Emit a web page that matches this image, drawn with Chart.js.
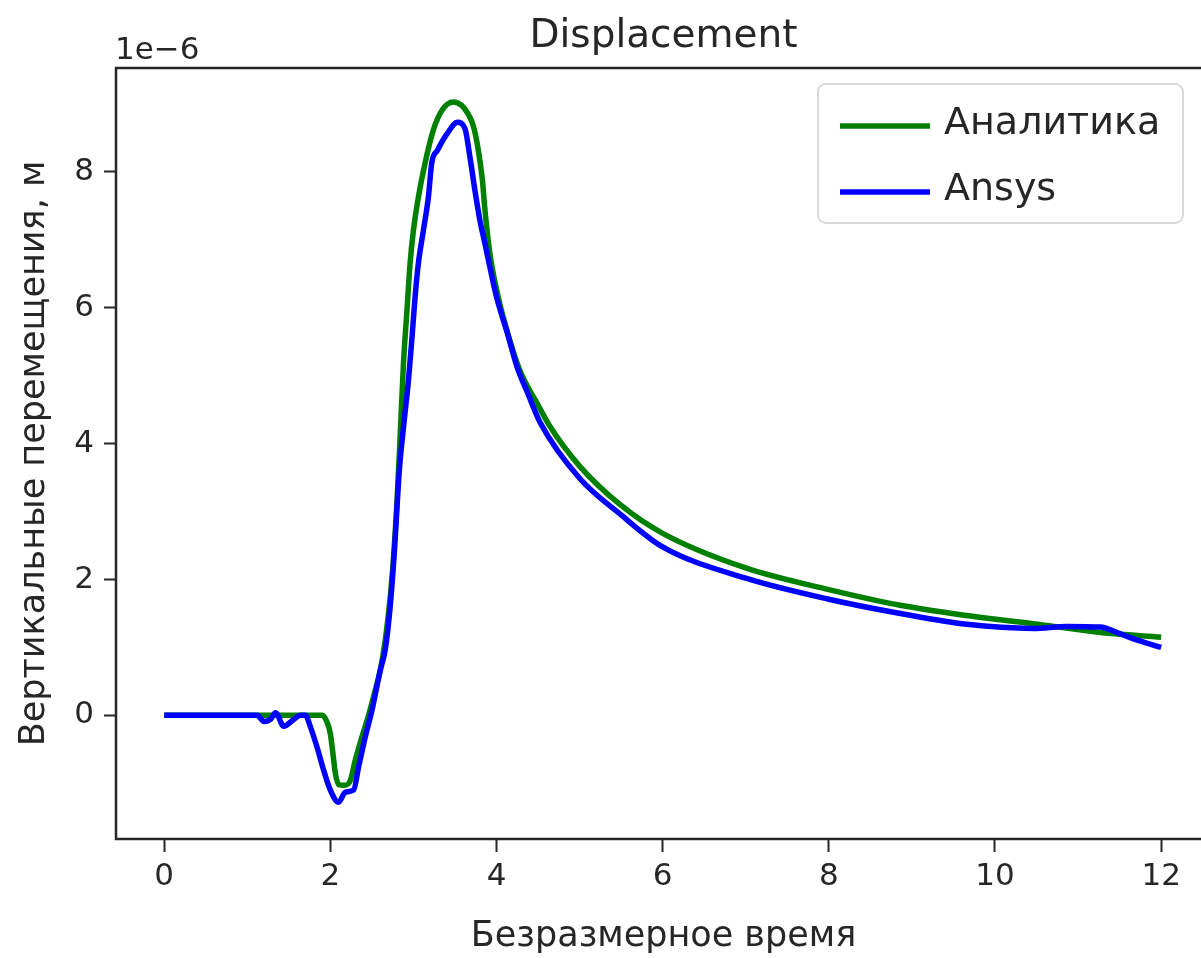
<!DOCTYPE html>
<html>
<head>
<meta charset="utf-8">
<title>Displacement</title>
<script src="https://cdn.jsdelivr.net/npm/chart.js@4"></script>
<style>
  html, body { margin: 0; padding: 0; background: #fff; overflow: hidden; }
  #wrap { width: 1216px; height: 958px; position: relative; }
</style>
</head>
<body>
<div id="wrap"><canvas id="chart"></canvas></div>
<script>
// analytic solution (values in 1e-6 m)
const analyticT = [0, 1.9, 1.96, 2.0, 2.03, 2.06, 2.1, 2.17, 2.24, 2.3, 2.38, 2.46, 2.54, 2.6, 2.66, 2.74, 2.8, 2.84, 2.88, 2.92, 2.96, 3.0, 3.06, 3.14, 3.24, 3.35, 3.48, 3.58, 3.65, 3.72, 3.77, 3.83, 3.86, 3.92, 4.02, 4.16, 4.28, 4.49, 4.65, 5.0, 5.5, 6.0, 7.0, 8.0, 8.86, 9.66, 10.46, 11.27, 12.0];
const analyticV = [0, 0, -0.1, -0.27, -0.55, -0.85, -1.02, -1.03, -0.96, -0.66, -0.32, 0, 0.37, 0.66, 1.1, 2.0, 3.1, 4.1, 5.18, 5.92, 6.66, 7.14, 7.63, 8.13, 8.62, 8.92, 9.03, 8.98, 8.87, 8.68, 8.4, 7.88, 7.45, 6.8, 6.16, 5.52, 5.08, 4.59, 4.24, 3.67, 3.09, 2.68, 2.17, 1.85, 1.62, 1.47, 1.35, 1.22, 1.15];

// Ansys run
const ansysT = [0, 1.12, 1.2, 1.28, 1.34, 1.44, 1.55, 1.64, 1.7, 1.76, 1.84, 1.92, 2.0, 2.1, 2.18, 2.28, 2.34, 2.42, 2.5, 2.6, 2.66, 2.72, 2.77, 2.83, 2.88, 2.94, 2.98, 3.02, 3.06, 3.12, 3.18, 3.22, 3.29, 3.41, 3.53, 3.62, 3.68, 3.74, 3.8, 3.86, 3.92, 4.0, 4.13, 4.25, 4.37, 4.53, 5.0, 5.5, 6.0, 7.0, 8.0, 8.86, 9.66, 10.46, 10.87, 11.27, 11.47, 11.66, 12.0];
const ansysV = [0, 0, -0.09, -0.06, 0.04, -0.16, -0.07, 0, 0, -0.17, -0.47, -0.81, -1.1, -1.28, -1.13, -1.1, -0.76, -0.32, 0.07, 0.66, 0.96, 1.6, 2.4, 3.6, 4.24, 4.93, 5.52, 6.16, 6.66, 7.14, 7.63, 8.13, 8.32, 8.57, 8.73, 8.64, 8.22, 7.73, 7.29, 6.95, 6.6, 6.16, 5.63, 5.12, 4.76, 4.3, 3.49, 2.95, 2.48, 2.02, 1.71, 1.5, 1.34, 1.28, 1.31, 1.3, 1.22, 1.13, 1.0];

const xTicks = [0, 2, 4, 6, 8, 10, 12];
const yTicks = [0, 2, 4, 6, 8];

const FONT = "'DejaVu Sans', sans-serif";
const INK = '#262626';

function toPoints(ts, vs) {
    return ts.map((t, i) => ({ x: t, y: vs[i] }));
}

// spines on all four sides
const frame = {
    id: 'frame',
    afterDatasetsDraw(chart) {
        const { ctx, chartArea: a } = chart;
        ctx.save();
        ctx.strokeStyle = INK;
        ctx.lineWidth = 2.5;
        ctx.strokeRect(a.left, a.top, a.right - a.left, a.bottom - a.top);
        ctx.restore();
    }
};

// title over the axes, legend box, 1e-6 multiplier
const extras = {
    id: 'extras',
    afterDraw(chart) {
        const ctx = chart.ctx;
        const a = chart.chartArea;
        ctx.save();

        ctx.fillStyle = INK;
        ctx.font = '39px ' + FONT;
        ctx.textAlign = 'center';
        ctx.textBaseline = 'alphabetic';
        ctx.fillText('Displacement', (a.left + a.right) / 2, 47);

        ctx.beginPath();
        ctx.roundRect(818, 84, 365, 139, 8);
        ctx.fillStyle = 'rgba(255,255,255,0.8)';
        ctx.fill();
        ctx.strokeStyle = '#d9d9d9';
        ctx.lineWidth = 2;
        ctx.stroke();

        ctx.font = '38px ' + FONT;
        ctx.textBaseline = 'middle';
        ctx.textAlign = 'left';
        chart.data.datasets.forEach((ds, i) => {
            const y = 126 + i * 66;
            ctx.strokeStyle = ds.borderColor;
            ctx.lineWidth = 5.5;
            ctx.beginPath();
            ctx.moveTo(840, y);
            ctx.lineTo(930, y);
            ctx.stroke();
            ctx.fillStyle = INK;
            ctx.fillText(ds.label, 944, y - 2);
        });

        ctx.font = '31px ' + FONT;
        ctx.textBaseline = 'alphabetic';
        ctx.fillText('1e\u22126', 115, 59);
        ctx.restore();
    }
};

const ctx = document.getElementById('chart');
new Chart(ctx, {
    type: 'line',
    data: {
        datasets: [
            {
                label: 'Аналитика',
                data: toPoints(analyticT, analyticV),
                borderColor: '#008000',
                borderWidth: 5.5,
                pointRadius: 0,
                cubicInterpolationMode: 'monotone',
                order: 1
            },
            {
                label: 'Ansys',
                data: toPoints(ansysT, ansysV),
                borderColor: '#0000ff',
                borderWidth: 5.5,
                pointRadius: 0,
                cubicInterpolationMode: 'monotone',
                order: 0
            }
        ]
    },
    options: {
        responsive: true,
        maintainAspectRatio: false,
        animation: false,
        layout: { padding: { left: 0, right: 5, top: 68, bottom: 0 } },
        plugins: {
            legend: { display: false },
            tooltip: { enabled: false },
            title: { display: false }
        },
        scales: {
            x: {
                type: 'linear',
                min: -0.58,
                max: 12.6,
                afterBuildTicks: s => { s.ticks = xTicks.map(v => ({ value: v })); },
                afterFit: s => { s.height = 119; },
                border: { display: false },
                grid: { drawOnChartArea: false, tickLength: 13, tickColor: INK, tickWidth: 2 },
                ticks: { color: INK, padding: 6, maxRotation: 0, font: { family: FONT, size: 31 } },
                title: {
                    display: true,
                    text: 'Безразмерное время',
                    color: INK,
                    font: { family: FONT, size: 35 },
                    padding: { top: 4, bottom: 0 }
                }
            },
            y: {
                type: 'linear',
                min: -1.82,
                max: 9.53,
                afterBuildTicks: s => { s.ticks = yTicks.map(v => ({ value: v })); },
                afterFit: s => { s.width = 116; },
                border: { display: false },
                grid: { drawOnChartArea: false, tickLength: 12, tickColor: INK, tickWidth: 2 },
                ticks: { color: INK, padding: 10, font: { family: FONT, size: 31 } },
                title: {
                    display: true,
                    text: 'Вертикальные перемещения, м',
                    color: INK,
                    font: { family: FONT, size: 35 },
                    padding: { top: 14, bottom: 0 }
                }
            }
        }
    },
    plugins: [frame, extras]
});
</script>
</body>
</html>
